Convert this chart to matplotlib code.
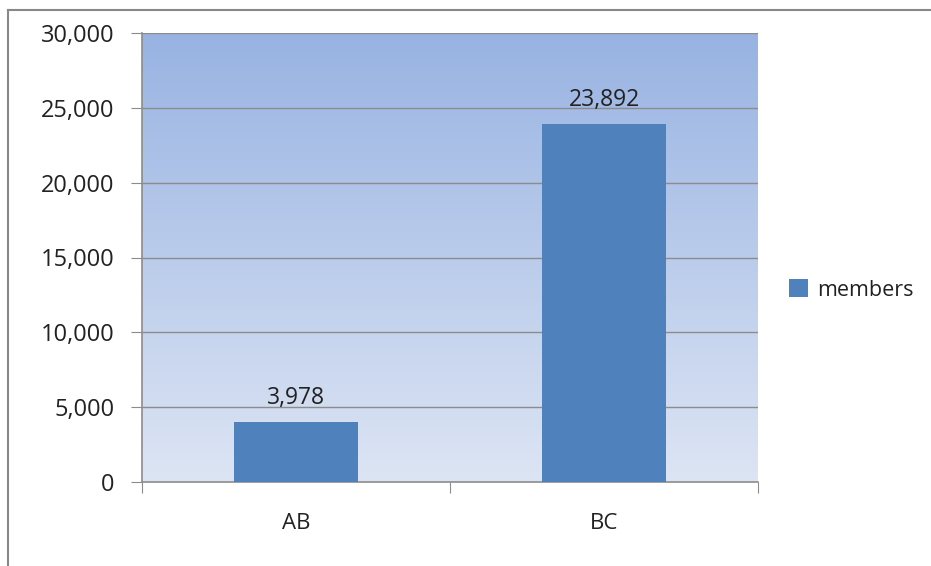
import matplotlib
matplotlib.use("Agg")
import matplotlib.pyplot as plt
import numpy as np
from matplotlib.patches import Patch
from matplotlib.lines import Line2D
from matplotlib.colors import LinearSegmentedColormap

categories = ["AB", "BC"]
members = [3978, 23892]
yticks = [0, 5000, 10000, 15000, 20000, 25000, 30000]

plt.rcParams['font.family'] = ['Open Sans', 'DejaVu Sans']

W, H = 931, 566
fig = plt.figure(figsize=(W/100, H/100), dpi=100)
ax = fig.add_axes([142/W, 1-482/H, (758-142)/W, (482-33)/H])

# gradient background
cmap = LinearSegmentedColormap.from_list("bg", ["#dde5f4", "#98b3e2"])
grad = np.linspace(0, 1, 256).reshape(-1, 1)
ax.imshow(grad, aspect='auto', cmap=cmap, origin='lower',
          extent=[-0.5, 1.5, 0, 30000], zorder=0)

x = np.arange(len(categories))
ax.bar(x, members, width=0.4, color="#4f81bd", zorder=3)
for xi, v in zip(x, members):
    ax.text(xi, v + 800, f"{v:,}", ha='center', va='bottom', fontsize=16.5, color="#222222", zorder=4)

ax.set_xlim(-0.5, 1.5)
ax.set_ylim(0, 30000)
ax.set_yticks(yticks)
ax.set_yticklabels([f"{t:,}" for t in yticks], fontsize=17, color="#222222")
for t in yticks[1:]:
    ax.axhline(t, color="#8c8c8c", lw=1.0, zorder=1)

ax.set_xticks([-0.5, 0.5, 1.5])
ax.set_xticklabels([])
ax.set_xticks(x, minor=True)
ax.set_xticklabels(categories, minor=True, fontsize=16, color="#222222")
ax.tick_params(axis='x', which='minor', length=0, pad=22)
ax.tick_params(axis='x', which='major', length=8, color="#8c8c8c", direction='out')
ax.tick_params(axis='y', length=8, color="#8c8c8c", direction='out', pad=12)

for s in ['top', 'right']:
    ax.spines[s].set_visible(False)
for s in ['left', 'bottom']:
    ax.spines[s].set_color("#8c8c8c")
    ax.spines[s].set_linewidth(1.2)

handles = [Patch(facecolor="#4f81bd", edgecolor="none", label="members")]
fig.legend(handles=handles, loc='center left', bbox_to_anchor=(770/W, 1-290/H),
           frameon=False, fontsize=15.5, handlelength=0.85, handleheight=0.85,
           handletextpad=0.45, labelcolor="#222222")

# outer frame
fig.add_artist(Line2D([8/W, 8/W], [0, 1-10/H], color="#888888", lw=1.5, transform=fig.transFigure))
fig.add_artist(Line2D([8/W, 1], [1-10/H, 1-10/H], color="#888888", lw=1.5, transform=fig.transFigure))

fig.savefig("out.png", dpi=100)
